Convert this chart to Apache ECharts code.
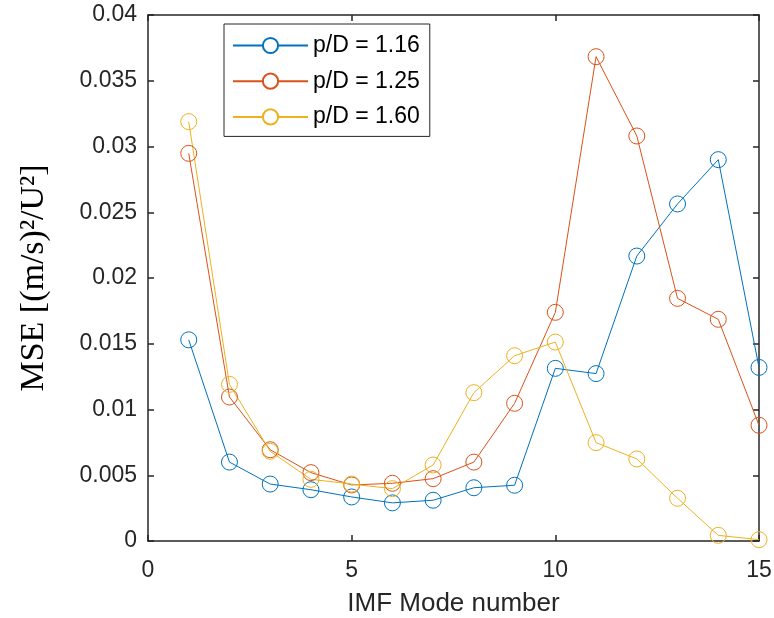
<!DOCTYPE html>
<html>
<head>
<meta charset="utf-8">
<script src="https://cdn.jsdelivr.net/npm/echarts@6/dist/echarts.min.js"></script>
<style>html,body{margin:0;padding:0;background:#fff;}#c{width:774px;height:618px;}</style>
</head>
<body>
<div id="c"></div>
<script>
const modes = [1, 2, 3, 4, 5, 6, 7, 8, 9, 10, 11, 12, 13, 14, 15];
const pd116 = [0.0153, 0.0060, 0.00433, 0.0039, 0.00335, 0.0029, 0.0031, 0.00405, 0.00424, 0.01313, 0.01273, 0.02167, 0.02563, 0.0290, 0.0132];
const pd125 = [0.02948, 0.01095, 0.00694, 0.0052, 0.00426, 0.00439, 0.00474, 0.0060, 0.01047, 0.01739, 0.03683, 0.0308, 0.01845, 0.01686, 0.0088];
const pd160 = [0.03189, 0.01191, 0.00682, 0.00469, 0.00433, 0.00398, 0.00578, 0.01128, 0.01409, 0.01513, 0.00748, 0.00624, 0.00325, 0.00043, 0.0001];
const seriesNames = ['p/D = 1.16', 'p/D = 1.25', 'p/D = 1.60'];
const colors = ['#0072BD', '#D95319', '#EDB120'];
const xTicks = [0, 5, 10, 15];
const yTicks = ['0', '0.005', '0.01', '0.015', '0.02', '0.025', '0.03', '0.035', '0.04'];

const chart = echarts.init(document.getElementById('c'), null, {renderer: 'canvas'});
const axisCol = '#262626';
const font = '"Liberation Sans", Arial, Helvetica, sans-serif';
function mk(name, vals, c) {
  return {
    name: name, type: 'line', data: modes.map((m, i) => [m, vals[i]]),
    symbol: 'circle', symbolSize: 16, color: c,
    lineStyle: {color: c, width: 1},
    itemStyle: {color: 'rgba(255,255,255,0)', borderColor: c, borderWidth: 1},
    emphasis: {disabled: true}, animation: false, z: 3
  };
}
const baseAxis = {
  axisLine: {show: true, onZero: false, lineStyle: {color: axisCol, width: 1.5}},
  axisTick: {show: true, inside: true, length: 6, lineStyle: {color: axisCol, width: 1.5}},
  splitLine: {show: false}
};
chart.setOption({
  backgroundColor: '#fff',
  animation: false,
  grid: {left: 148, top: 15, width: 611, height: 526, containLabel: false, outerBoundsMode: 'none'},
  legend: {
    data: seriesNames, orient: 'vertical', left: 224, top: 24,
    itemWidth: 75, itemHeight: 19, itemGap: 12.7,
    padding: [10, 10, 8, 8],
    borderColor: axisCol, borderWidth: 1, backgroundColor: '#fff',
    itemStyle: {color: '#fff'},
    textStyle: {fontFamily: font, fontSize: 23, color: '#000'},
    selectedMode: false
  },
  xAxis: [
    Object.assign({}, baseAxis, {
      type: 'value', min: 0, max: 15, interval: 5, position: 'bottom',
      name: 'IMF Mode number', nameLocation: 'middle', nameGap: 50,
      nameTextStyle: {fontFamily: font, fontSize: 26, color: '#262626'},
      axisLabel: {fontFamily: font, fontSize: 23, color: '#262626', margin: 18,
        formatter: v => String(xTicks[xTicks.indexOf(v)])}
    }),
    Object.assign({}, baseAxis, {
      type: 'value', min: 0, max: 15, interval: 5, position: 'top',
      axisLabel: {show: false}
    })
  ],
  yAxis: [
    Object.assign({}, baseAxis, {
      type: 'value', min: 0, max: 0.04, interval: 0.005, position: 'left',
      name: 'MSE [(m/s)²/U²]', nameLocation: 'middle', nameGap: 97, nameRotate: 90,
      nameTextStyle: {fontFamily: '"Liberation Serif", "Times New Roman", serif', fontSize: 34, color: '#000'},
      axisLabel: {fontFamily: font, fontSize: 23, color: '#262626', margin: 11,
        formatter: v => yTicks[Math.round(v / 0.005)]}
    }),
    Object.assign({}, baseAxis, {
      type: 'value', min: 0, max: 0.04, interval: 0.005, position: 'right',
      axisLabel: {show: false}
    })
  ],
  series: [mk(seriesNames[0], pd116, colors[0]), mk(seriesNames[1], pd125, colors[1]), mk(seriesNames[2], pd160, colors[2])]
});
</script>
</body>
</html>
